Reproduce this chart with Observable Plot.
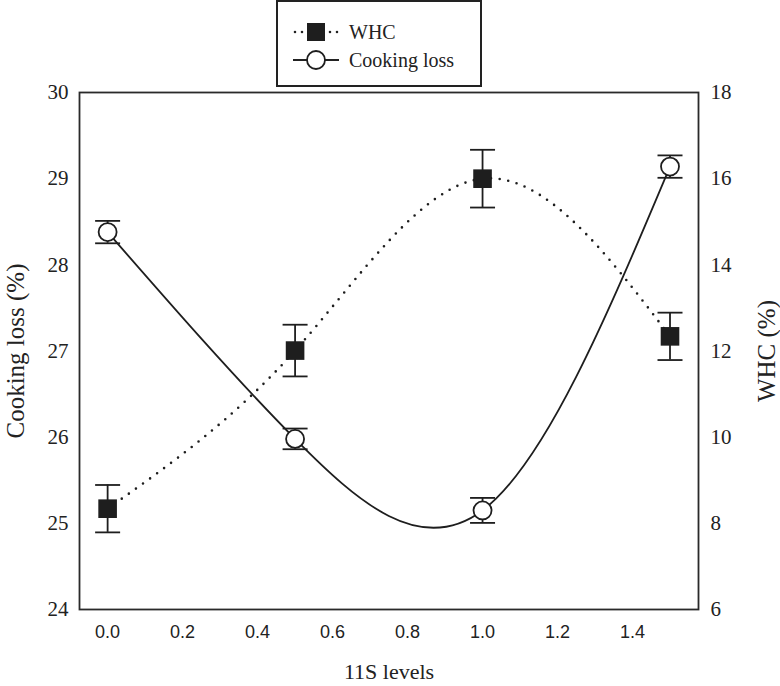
<!DOCTYPE html>
<html>
<head>
<meta charset="utf-8">
<script src="https://cdn.jsdelivr.net/npm/d3@7"></script>
<script src="https://cdn.jsdelivr.net/npm/@observablehq/plot@0.6"></script>
<style>
  body { margin: 0; background: #fff; }
  #wrap { position: relative; width: 780px; height: 686px; }
  #legend { position: absolute; left: 276px; top: 0px; width: 206px; height: 87px;
            box-sizing: border-box; border: 2px solid #222; background: #fff; }
  #legend svg { position: absolute; left: -2px; top: -2px; }
  #chart g[aria-label="y-axis tick label"], #chart g[aria-label="y-axis tick label"] text {
    font-family: "Liberation Serif", serif !important; font-size: 21px !important; }
  #chart g[aria-label="x-axis tick label"], #chart g[aria-label="x-axis tick label"] text {
    font-family: "Liberation Sans", sans-serif !important; font-size: 18px !important; }
</style>
</head>
<body>
<div id="wrap">
  <div id="chart"></div>
  <div id="legend">
    <svg width="206" height="87" font-family="Liberation Serif" font-size="20" fill="#222">
      <line x1="19" y1="32" x2="63" y2="32" stroke="#222" stroke-width="2.6" stroke-linecap="round" stroke-dasharray="0 7"></line>
      <rect x="31" y="23" width="18" height="18" fill="#1e1e1e"></rect>
      <text x="73" y="39">WHC</text>
      <line x1="17" y1="60" x2="63" y2="60" stroke="#222" stroke-width="1.8"></line>
      <circle cx="40" cy="60" r="9" fill="#fff" stroke="#1e1e1e" stroke-width="1.8"></circle>
      <text x="73" y="67">Cooking loss</text>
    </svg>
  </div>
</div>
<script>
// ---- data ----
const levels = [0, 0.5, 1.0, 1.5];
const whc = [8.34, 12.01, 16.0, 12.34];
const whcErr = [0.55, 0.6, 0.67, 0.55];
const cookingLoss = [28.38, 25.98, 25.15, 29.14];
const cookingLossErr = [0.13, 0.12, 0.145, 0.13];
const xTicks = [0, 0.2, 0.4, 0.6, 0.8, 1.0, 1.2, 1.4];
const leftTicks = [24, 25, 26, 27, 28, 29, 30];
const rightTicks = [6, 8, 10, 12, 14, 16, 18];

// right axis (WHC 6..18) mapped onto left axis (Cooking loss 24..30)
const toLeft = w => 24 + (w - 6) / 2;
const toRight = c => 6 + (c - 24) * 2;

const cl = levels.map((x, i) => ({x, y: cookingLoss[i], e: cookingLossErr[i]}));
const wh = levels.map((x, i) => ({x, y: toLeft(whc[i]), e: whcErr[i] / 2}));

const capSymbol = {
  draw(ctx, size) {
    const r = Math.sqrt(size / Math.PI);
    ctx.moveTo(-r, 0);
    ctx.lineTo(r, 0);
  }
};

const ink = "#1e1e1e";
const serif = "Liberation Serif";

const errorMarks = (data) => [
  Plot.ruleX(data, {x: "x", y1: d => d.y - d.e, y2: d => d.y + d.e, stroke: ink, strokeWidth: 1.8}),
  Plot.dot(data, {x: "x", y: d => d.y + d.e, symbol: capSymbol, r: 12.5, fill: "none", stroke: ink, strokeWidth: 1.8}),
  Plot.dot(data, {x: "x", y: d => d.y - d.e, symbol: capSymbol, r: 12.5, fill: "none", stroke: ink, strokeWidth: 1.8})
];

const chart = Plot.plot({
  width: 780,
  height: 686,
  marginLeft: 79,
  marginRight: 82,
  marginTop: 92,
  marginBottom: 77,
  style: {background: "#fff", color: ink},
  x: {domain: [-0.075, 1.576]},
  y: {domain: [24, 30]},
  marks: [
    Plot.frame({stroke: "#2a2a2a", strokeWidth: 1.8}),
    Plot.axisX(xTicks, {tickSize: 0, tickPadding: 16, tickFormat: d3.format(".1f"),
      fontSize: 18, fontFamily: "Liberation Sans", fill: "#222", label: null}),
    Plot.axisY(leftTicks, {anchor: "left", tickSize: 0, tickPadding: 11, tickFormat: d => String(d),
      fontSize: 21, fontFamily: serif, fill: "#222", label: null}),
    Plot.axisY(rightTicks.map(toLeft), {anchor: "right", tickSize: 0, tickPadding: 12, tickFormat: d => String(Math.round(toRight(d))),
      fontSize: 21, fontFamily: serif, fill: "#222", label: null}),
    Plot.text(["Cooking loss (%)"], {text: d => d, frameAnchor: "left", dx: -64, rotate: -90,
      textAnchor: "middle", lineAnchor: "middle", fontSize: 25, fontFamily: serif, fill: "#222"}),
    Plot.text(["WHC (%)"], {text: d => d, frameAnchor: "right", dx: 68, rotate: -90,
      textAnchor: "middle", lineAnchor: "middle", fontSize: 25, fontFamily: serif, fill: "#222"}),
    Plot.text(["11S levels"], {text: d => d, frameAnchor: "bottom", dy: 62,
      textAnchor: "middle", lineAnchor: "middle", fontSize: 22, fontFamily: serif, fill: "#222"}),
    // curves
    Plot.line(wh, {x: "x", y: "y", curve: "natural", stroke: ink, strokeWidth: 2.6,
      strokeDasharray: "0 8.7", strokeLinecap: "round"}),
    Plot.line(cl, {x: "x", y: "y", curve: "natural", stroke: ink, strokeWidth: 1.8}),
    // error bars
    ...errorMarks(wh),
    ...errorMarks(cl),
    // markers
    Plot.dot(wh, {x: "x", y: "y", symbol: "square", r: 10.5, fill: ink, stroke: "none"}),
    Plot.dot(cl, {x: "x", y: "y", symbol: "circle", r: 9, fill: "#fff", stroke: ink, strokeWidth: 1.8})
  ]
});
document.getElementById("chart").appendChild(chart);
</script>
</body>
</html>
